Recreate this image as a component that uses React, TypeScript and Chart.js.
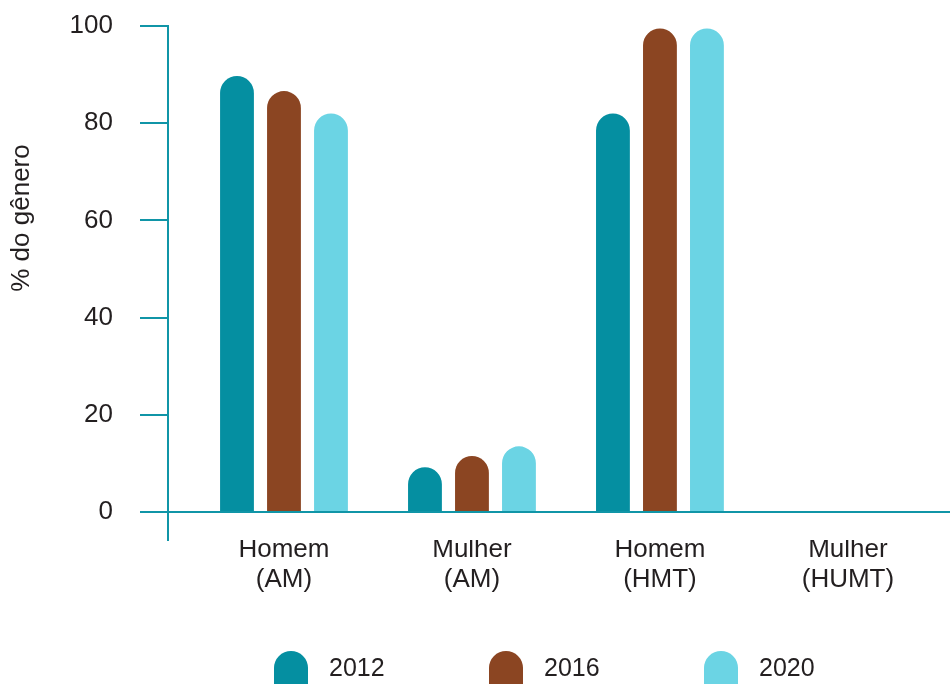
import React, { useEffect, useRef } from 'react';
import { Chart, registerables } from 'chart.js';

Chart.register(...registerables);

// ---- data ----
const categories: string[][] = [
  ['Homem', '(AM)'],
  ['Mulher', '(AM)'],
  ['Homem', '(HMT)'],
  ['Mulher', '(HUMT)'],
];
const seriesLabels = ['2012', '2016', '2020'];
const values2012 = [89.7, 9.2, 82.0, 0];
const values2016 = [86.6, 11.5, 99.5, 0];
const values2020 = [82.0, 13.5, 99.5, 0];
const yTicks = [0, 20, 40, 60, 80, 100];
const yTitle = '% do gênero';

// ---- styles ----
const COLORS = ['#058fa1', '#8b4522', '#6bd4e4'];
const AXIS = '#1095a7';
const TEXT = '#231f20';
const FONT = "'Liberation Sans', Arial, Helvetica, sans-serif";
const X_MIN = -0.617;
const X_MAX = 3.543;
const Y_MIN = -5.77;
const Y_MAX = 100;

const decorPlugin = {
  id: 'decor',
  afterDraw(chart: any) {
    const { ctx, chartArea } = chart;
    ctx.save();
    // y-axis title
    ctx.translate(22, chartArea.top + 192);
    ctx.rotate(-Math.PI / 2);
    ctx.fillStyle = TEXT;
    ctx.font = `26px ${FONT}`;
    ctx.textAlign = 'center';
    ctx.textBaseline = 'middle';
    ctx.fillText(yTitle, 0, 0);
    ctx.restore();

    // legend
    ctx.save();
    const start = chartArea.left + 106;
    const step = 215;
    const top = chart.height - 33;
    const w = 34;
    chart.data.datasets.forEach((ds: any, i: number) => {
      const x = start + i * step;
      const r = w / 2;
      ctx.fillStyle = ds.backgroundColor;
      ctx.beginPath();
      ctx.moveTo(x, chart.height);
      ctx.lineTo(x, top + r);
      ctx.arc(x + r, top + r, r, Math.PI, 0);
      ctx.lineTo(x + w, chart.height);
      ctx.closePath();
      ctx.fill();
      ctx.fillStyle = TEXT;
      ctx.font = `25px ${FONT}`;
      ctx.textAlign = 'left';
      ctx.textBaseline = 'middle';
      ctx.fillText(ds.label, x + 55, top + 18);
    });
    ctx.restore();
  },
};

export default function App() {
  const ref = useRef<HTMLCanvasElement | null>(null);

  useEffect(() => {
    if (!ref.current) return;
    const series = [values2012, values2016, values2020];
    const chart = new Chart(ref.current, {
      type: 'bar',
      data: {
        datasets: series.map((vals, s) => ({
          label: seriesLabels[s],
          data: vals.map((v, i) => ({ x: i, y: v })),
          backgroundColor: COLORS[s],
          borderRadius: 20,
          borderSkipped: 'start',
          categoryPercentage: 0.75,
          barPercentage: 0.72,
        })),
      },
      options: {
        animation: false,
        responsive: false,
        maintainAspectRatio: false,
        layout: { padding: { top: 26, right: 0, bottom: 80, left: 0 } },
        plugins: {
          legend: { display: false },
          tooltip: { enabled: false },
        },
        scales: {
          x: {
            type: 'linear',
            min: X_MIN,
            max: X_MAX,
            offset: false,
            afterBuildTicks: (s: any) => {
              s.ticks = categories.map((_, i) => ({ value: i }));
            },
            afterFit: (s: any) => {
              s.height = 64;
              s.paddingLeft = 0;
              s.paddingRight = 0;
            },
            border: { display: false },
            grid: { display: false, offset: false },
            ticks: {
              autoSkip: false,
              maxRotation: 0,
              minRotation: 0,
              padding: -13,
              color: TEXT,
              font: { family: FONT, size: 26, lineHeight: 1.15 },
              callback: (v: any) => (Number.isInteger(v) ? categories[v] : ''),
            },
          },
          y: {
            type: 'linear',
            min: Y_MIN,
            max: Y_MAX,
            afterBuildTicks: (s: any) => {
              s.ticks = yTicks.map((v) => ({ value: v }));
            },
            afterFit: (s: any) => {
              s.width = 168;
              s.paddingTop = 0;
              s.paddingBottom = 0;
            },
            border: { display: true, color: AXIS, width: 2 },
            grid: {
              drawOnChartArea: true,
              drawTicks: true,
              tickLength: 28,
              lineWidth: 2,
              tickColor: AXIS,
              color: (ctx: any) => (ctx.tick && ctx.tick.value === 0 ? AXIS : 'rgba(0,0,0,0)'),
            },
            ticks: {
              padding: 27,
              color: TEXT,
              font: { family: FONT, size: 26 },
            },
          },
        },
      },
      plugins: [decorPlugin],
    } as any);
    return () => chart.destroy();
  }, []);

  return (
    <div style={{ position: 'absolute', left: 0, top: 0, width: 950, height: 684, background: '#fff' }}>
      <canvas ref={ref} width={950} height={684} />
    </div>
  );
}
